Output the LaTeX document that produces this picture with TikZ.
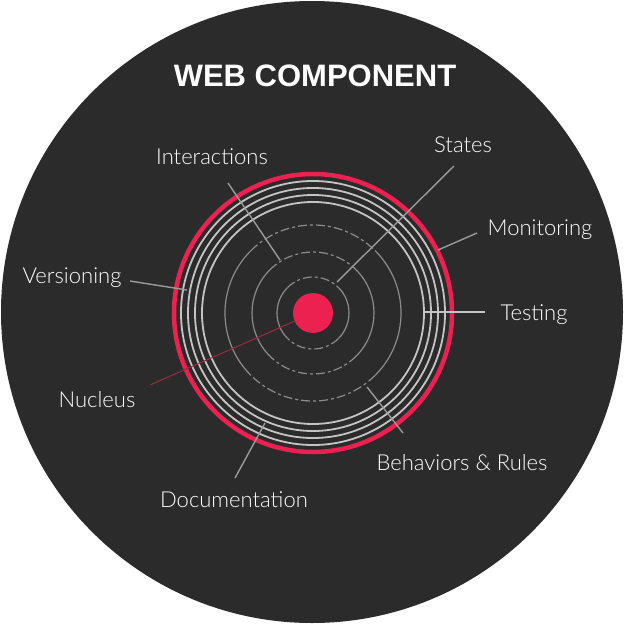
\documentclass[tikz,border=0pt]{standalone}
\usepackage{fontspec}
\setmainfont{Liberation Sans}
\newfontfamily\lightfont{Lato Light}
\definecolor{bgdark}{HTML}{2B2B2B}
\definecolor{redc}{HTML}{EC2150}
\definecolor{wringc}{HTML}{C4C4C4}
\definecolor{inringc}{HTML}{8C8C8C}
\definecolor{connc}{HTML}{9A9A9A}
\definecolor{nucc}{HTML}{9A2A44}
\begin{document}
\begin{tikzpicture}[x=1pt,y=-1pt,
  lbl/.style={text=white,font=\lightfont\fontsize{22}{22}\selectfont,inner sep=0pt,anchor=base},
  conn/.style={draw=connc,line width=1.4pt},
  wring/.style={draw=wringc,line width=1.8pt},
  inring/.style={draw=inringc,line width=1.2pt},
  indash/.style={inring,dash pattern=on 9pt off 3pt on 3pt off 3pt}
]
\fill[white] (0,0) rectangle (624,624);
\useasboundingbox (0,0) rectangle (624,624);
\fill[bgdark] (312,312) circle[radius=311];
\coordinate (C) at (313,313);

% inner rings
\foreach \r in {36,61,88}{
  \draw[inring] (C) ++(-45:\r) arc[start angle=-45,end angle=45,radius=\r];
  \draw[inring] (C) ++(135:\r) arc[start angle=135,end angle=225,radius=\r];
  \draw[indash] (C) ++(45:\r) arc[start angle=45,end angle=135,radius=\r];
  \draw[indash] (C) ++(225:\r) arc[start angle=225,end angle=315,radius=\r];
}
% white rings
\foreach \r in {111,118,125,132}{
  \draw[wring] (C) circle[radius=\r];
}
% red ring
\draw[redc,line width=4.5pt] (C) circle[radius=139];

% title
\node[text=white,font=\bfseries\fontsize{31}{31}\selectfont,inner sep=0pt] (title) at (315,76) {WEB COMPONENT};

% labels
\node[lbl] (interactions) at (212,164) {Interactions};
\node[lbl] (states) at (463,152) {States};
\node[lbl] (monitoring) at (540,235) {Monitoring};
\node[lbl] (testing) at (534,320) {Testing};
\node[lbl] (versioning) at (72,283) {Versioning};
\node[lbl] (nucleus) at (97,407) {Nucleus};
\node[lbl] (documentation) at (234,507) {Documentation};
\node[lbl] (behaviors) at (462,470) {Behaviors \& Rules};

% connector end points
\coordinate (iA) at (228,183); \coordinate (iB) at (280,260);
\coordinate (sA) at (454,166); \coordinate (sB) at (337,282);
\coordinate (mA) at (477,233); \coordinate (mB) at (438,250);
\coordinate (tA) at (485,312); \coordinate (tB) at (425,312);
\coordinate (vA) at (130,281); \coordinate (vB) at (187,290);
\coordinate (nA) at (150,385);
\coordinate (dA) at (235,478); \coordinate (dB) at (265,423);
\coordinate (bA) at (403,433); \coordinate (bB) at (367,387);

\draw[conn] (iA) -- (iB);
\draw[conn] (sA) -- (sB);
\draw[conn] (mA) -- (mB);
\draw[conn,draw=wringc,line width=2pt] (tA) -- (tB);
\draw[conn] (vA) -- (vB);
\draw[conn] (dA) -- (dB);
\draw[conn] (bA) -- (bB);

% nucleus
\node[circle,fill=redc,minimum size=40pt,inner sep=0pt] (dot) at (C) {};
\draw[draw=nucc,line width=1pt] (nA) -- (dot);
\end{tikzpicture}
\end{document}
